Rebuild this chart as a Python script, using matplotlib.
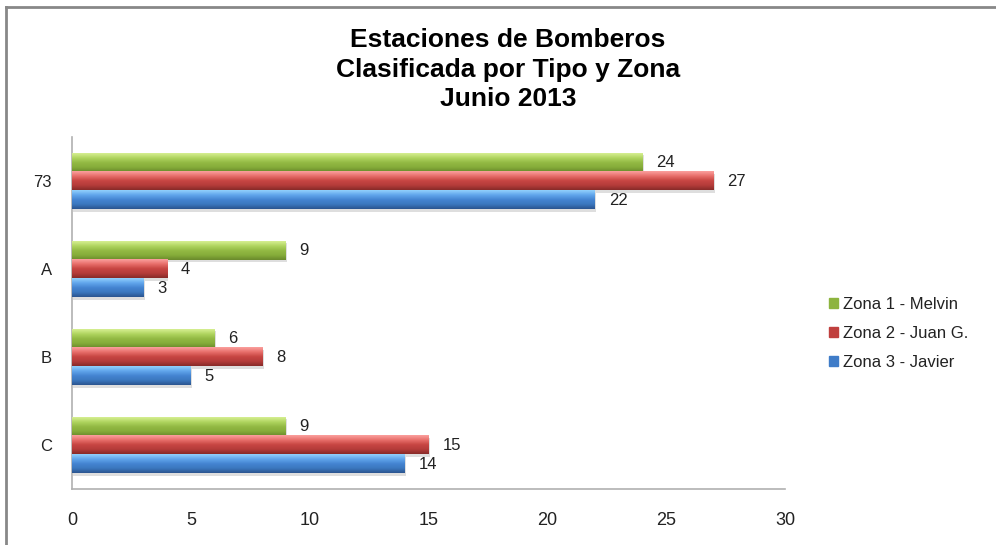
import numpy as np
import matplotlib
matplotlib.use("Agg")
import matplotlib.pyplot as plt
from matplotlib.lines import Line2D
from matplotlib.colors import LinearSegmentedColormap
from matplotlib import font_manager

categories = ["73", "A", "B", "C"]
series_names = ["Zona 1 - Melvin", "Zona 2 - Juan G.", "Zona 3 - Javier"]
zona1 = [24, 9, 6, 9]
zona2 = [27, 4, 8, 15]
zona3 = [22, 3, 5, 14]
xticks = [0, 5, 10, 15, 20, 25, 30]

title = "Estaciones de Bomberos\nClasificada por Tipo y Zona\nJunio 2013"

base_colors = ["#8DB43E", "#C0403E", "#3F7CC8"]
gradients = [
    ["#D6EF92", "#B0D560", "#93BA44", "#86AC3A", "#6A8A2C"],
    ["#FBA09E", "#E8706C", "#C84643", "#B53C3A", "#882B29"],
    ["#92D0FC", "#62A6EC", "#4585D2", "#3B77BF", "#2B558F"],
]

plt.rcParams['font.family'] = ['Liberation Sans', 'DejaVu Sans']
names = {f.name for f in font_manager.fontManager.ttflist}
narrow = ['Liberation Sans Narrow', 'Liberation Sans'] if 'Liberation Sans Narrow' in names else ['Liberation Sans']

fig = plt.figure(figsize=(9.96, 5.45), dpi=100)
ax = fig.add_axes([72/996, 1-489/545, (785-72)/996, (489-137)/545])

y = np.arange(len(categories))
h = 0.215
offsets = [-h, 0, h]
data = [zona1, zona2, zona3]

for i, (vals, name) in enumerate(zip(data, series_names)):
    bars = ax.barh(y + offsets[i], vals, height=h, color=base_colors[i],
                   label=name, zorder=2, linewidth=0)
    cmap = LinearSegmentedColormap.from_list(f"g{i}", gradients[i])
    grad = np.linspace(0, 1, 64).reshape(-1, 1)
    for b, v in zip(bars, vals):
        x0, yb = b.get_x(), b.get_y()
        w, hh = b.get_width(), b.get_height()
        ax.add_patch(plt.Rectangle((x0 + 0.06, yb + 0.025), w, hh,
                                   color="#000000", alpha=0.13, zorder=1, linewidth=0))
        ax.imshow(grad, cmap=cmap, aspect="auto",
                  extent=[x0, x0 + w, yb + hh, yb], zorder=3,
                  interpolation="bilinear")
        ax.text(x0 + w + 0.58, yb + hh/2 + 0.01, str(v), va="center", ha="left",
                fontsize=12, color="#222222", zorder=4)

ax.set_xlim(0, 30)
ax.set_ylim(len(categories) - 0.5, -0.5)
ax.set_yticks(y)
ax.set_yticklabels(categories)
ax.set_xticks(xticks)
ax.set_xticklabels([str(t) for t in xticks], family=narrow)
ax.tick_params(axis="x", length=0, pad=16.5, labelsize=13, colors="#222222")
ax.tick_params(axis="y", length=0, pad=14.4, labelsize=12, colors="#222222")
for s in ["top", "right"]:
    ax.spines[s].set_visible(False)
for s in ["left", "bottom"]:
    ax.spines[s].set_color("#B0B0B0")
    ax.spines[s].set_linewidth(1.2)

fig.text(508/996, 1-28/545, title, ha="center", va="top", fontsize=19,
         fontweight="bold", linespacing=1.3)

handles = [plt.Rectangle((0, 0), 1, 1, color=c) for c in base_colors]
leg = fig.legend(handles, series_names, loc="upper left",
                 bbox_to_anchor=(814/996, 1-282/545), frameon=False,
                 fontsize=12, handlelength=0.55, handleheight=0.55,
                 handletextpad=0.3, labelspacing=0.85)
for t in leg.get_texts():
    t.set_color("#222222")

fig.add_artist(Line2D([6/996, 1], [1-7/545, 1-7/545], color="#888888", linewidth=2,
                      transform=fig.transFigure))
fig.add_artist(Line2D([6/996, 6/996], [0, 1-7/545], color="#888888", linewidth=2,
                      transform=fig.transFigure))

fig.savefig("out.png", dpi=100, facecolor="white")
